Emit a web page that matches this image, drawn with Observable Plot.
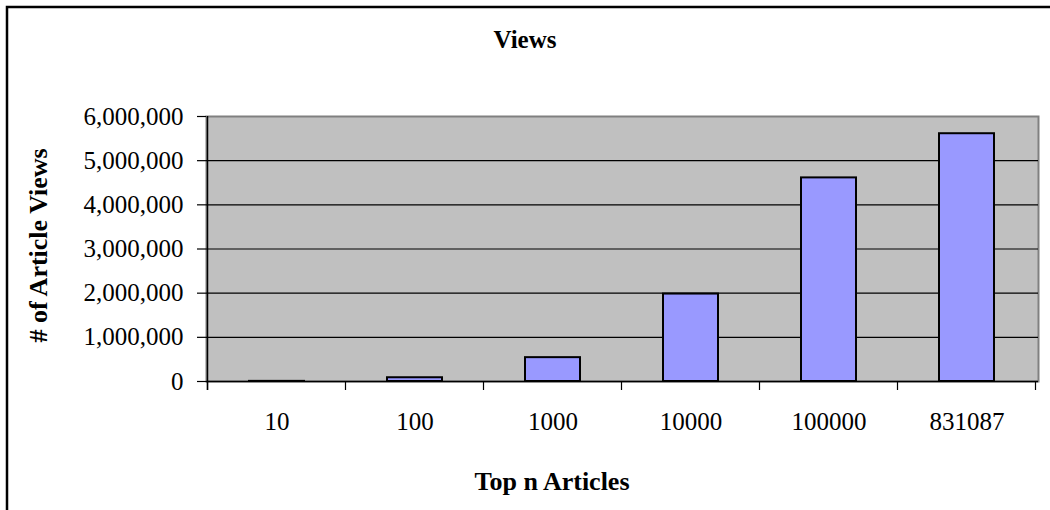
<!DOCTYPE html>
<html><head><meta charset="utf-8">
<script src="https://cdn.jsdelivr.net/npm/d3@7"></script>
<script src="https://cdn.jsdelivr.net/npm/@observablehq/plot@0.6"></script>
<style>body{margin:0;background:#fff;overflow:hidden}</style>
</head><body><div id="chart"></div>
<script>
const categories = ["10", "100", "1000", "10000", "100000", "831087"];
const views = [3000, 85000, 540000, 1980000, 4610000, 5610000];
const yTicks = [0, 1000000, 2000000, 3000000, 4000000, 5000000, 6000000];
const gridValues = [1000000, 2000000, 3000000, 4000000, 5000000];
const title = "Views";
const xTitle = "Top n Articles";
const yTitle = "# of Article Views";

const data = categories.map((c, i) => ({category: c, views: views[i]}));
const font = '"Liberation Serif", "Times New Roman", serif';

const chart = Plot.plot({
  width: 1050, height: 510,
  marginLeft: 206, marginRight: 12, marginTop: 116, marginBottom: 129,
  style: {fontFamily: font, fontSize: "25px", color: "#000", background: "#fff", overflow: "visible"},
  x: {domain: categories, paddingInner: 0.6, paddingOuter: 0.3},
  y: {domain: [0, 6000000]},
  marks: [
    Plot.frame({fill: "#C0C0C0", stroke: "#808080", strokeWidth: 2}),
    Plot.ruleY(gridValues, {stroke: "#000", strokeWidth: 1.2}),
    Plot.barY(data, {x: "category", y: "views", fill: "#9999FF", stroke: "#000", strokeWidth: 2}),
    Plot.ruleY([0], {stroke: "#000", strokeWidth: 1.5}),
    Plot.axisY({ticks: yTicks, tickFormat: d3.format(","), tickSize: 9, tickPadding: 14, label: null, strokeWidth: 1.2}),
    Plot.axisX({tickSize: 0, tickPadding: 31, label: null})
  ]
});

const svg = d3.select(chart);
const sx = chart.scale("x");
const sy = chart.scale("y");
const bw = sx.bandwidth, step = sx.step;
const half = (step - bw) / 2;
const bounds = categories.map(c => sx.apply(c) - half);
bounds.push(sx.apply(categories[categories.length - 1]) + bw + half);
const yBase = sy.apply(0), yTop = sy.apply(6000000);

const g = svg.append("g").attr("stroke", "#000").attr("stroke-width", 1.2);
// y axis line
g.append("line").attr("x1", bounds[0]).attr("x2", bounds[0]).attr("y1", yTop).attr("y2", yBase + 9).attr("stroke-width", 1.5);
// x ticks at category boundaries
g.selectAll("line.bt").data(bounds).join("line").attr("class", "bt")
  .attr("x1", d => d).attr("x2", d => d).attr("y1", yBase).attr("y2", yBase + 9);

// outer chart border
svg.append("rect").attr("x", 7).attr("y", 7).attr("width", 1200).attr("height", 700)
  .attr("fill", "none").attr("stroke", "#000").attr("stroke-width", 2.5);

// titles
svg.append("text").attr("x", 525).attr("y", 48).attr("text-anchor", "middle")
  .attr("font-weight", "bold").attr("font-size", 25).attr("fill", "#000").text(title);
svg.append("text").attr("x", 552).attr("y", 490).attr("text-anchor", "middle")
  .attr("font-weight", "bold").attr("font-size", 26).attr("fill", "#000").text(xTitle);
svg.append("text").attr("transform", `translate(47,${(yTop + yBase) / 2 - 3}) rotate(-90)`)
  .attr("text-anchor", "middle").attr("font-weight", "bold").attr("font-size", 26)
  .attr("fill", "#000").text(yTitle);

document.getElementById("chart").appendChild(chart);
</script>
</body></html>
